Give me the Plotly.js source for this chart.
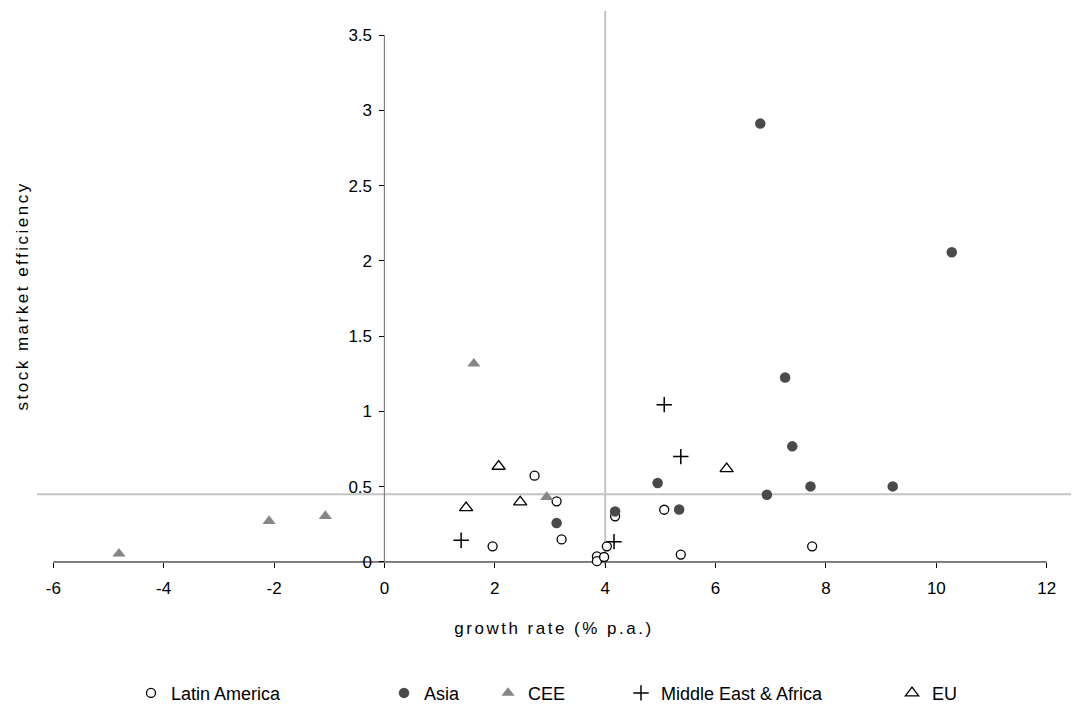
<!DOCTYPE html>
<html>
<head>
<meta charset="utf-8">
<script src="https://cdn.plot.ly/plotly-3.0.1.min.js"></script>
<style>
html,body{margin:0;padding:0;background:#fff;}
#chart{width:1072px;height:713px;}
#chart .xtitle, #chart .annotation-text { letter-spacing: 2.5px; }
</style>
</head>
<body>
<div id="chart"></div>
<script>
// ---- data ----
const seriesNames = ["Latin America", "Asia", "CEE", "Middle East & Africa", "EU"];

const latamX = [2.72, 3.12, 3.21, 1.96, 4.18, 5.07, 5.37, 7.75, 4.03, 3.85, 3.85, 3.98];
const latamY = [0.573, 0.403, 0.150, 0.104, 0.303, 0.347, 0.049, 0.104, 0.104, 0.037, 0.005, 0.033];

const asiaX = [6.81, 10.28, 7.26, 7.39, 4.95, 7.72, 9.21, 6.93, 5.34, 4.18, 3.12];
const asiaY = [2.912, 2.057, 1.225, 0.768, 0.525, 0.502, 0.502, 0.447, 0.348, 0.336, 0.259];

const ceeX = [-4.81, -2.09, -1.07, 1.62, 2.94];
const ceeY = [0.055, 0.272, 0.305, 1.317, 0.431];

const meaX = [5.07, 5.37, 4.16, 1.39];
const meaY = [1.045, 0.700, 0.135, 0.144];

const euX = [6.20, 2.07, 1.48, 2.46];
const euY = [0.619, 0.635, 0.360, 0.398];

// reference lines
const refGrowth = 4;        // vertical line
const refEfficiency = 0.45; // horizontal line

const xTicks = [-6, -4, -2, 0, 2, 4, 6, 8, 10, 12];
const xTickLabels = ["-6", "-4", "-2", "0", "2", "4", "6", "8", "10", "12"];
const yTicks = [0, 0.5, 1, 1.5, 2, 2.5, 3, 3.5];
const yTickLabels = ["0", "0.5", "1", "1.5", "2", "2.5", "3", "3.5"];

const xTitle = "growth rate (% p.a.)";
const yTitle = "stock market efficiency";

// ---- layout geometry ----
const xRange = [-6.295, 12.44];
const yRange = [-0.06, 3.70];
const FONT = "Liberation Sans, Arial, sans-serif";

const traces = [
  {x: latamX, y: latamY, name: seriesNames[0], legend: "legend",
   marker: {symbol: "circle", size: 9, color: "#ffffff", line: {color: "#000000", width: 1.3}}},
  {x: asiaX, y: asiaY, name: seriesNames[1], legend: "legend2",
   marker: {symbol: "circle", size: 10.5, color: "#4a4a4a", line: {width: 0}}},
  {x: ceeX, y: ceeY, name: seriesNames[2], legend: "legend3",
   marker: {symbol: "triangle-up", size: 11.5, color: "#868686", line: {width: 0}}},
  {x: meaX, y: meaY, name: seriesNames[3], legend: "legend4",
   marker: {symbol: "cross-thin", size: 11, color: "#000000", line: {color: "#000000", width: 1.5}}},
  {x: euX, y: euY, name: seriesNames[4], legend: "legend5",
   marker: {symbol: "triangle-up-open", size: 11.5, color: "#000000", line: {color: "#000000", width: 1.3}}}
].map(t => Object.assign({type: "scatter", mode: "markers", cliponaxis: false}, t));

const xFrac = v => (v - xRange[0]) / (xRange[1] - xRange[0]);
const yFrac = v => (v - yRange[0]) / (yRange[1] - yRange[0]);

function legendAt(xp) {
  return {x: xp, y: (571.3 - 712) / 566, xanchor: "left", yanchor: "bottom", orientation: "h",
          font: {family: FONT, size: 18, color: "#000"}, bgcolor: "rgba(0,0,0,0)", borderwidth: 0};
}

const layout = {
  width: 1072, height: 713,
  margin: {l: 37, r: 1, t: 5.3, b: 141.7, pad: 0},
  paper_bgcolor: "#ffffff", plot_bgcolor: "#ffffff",
  font: {family: FONT, size: 17, color: "#000"},
  showlegend: true,
  xaxis: {
    range: xRange, anchor: "free", position: yFrac(0),
    showline: false, zeroline: false, showgrid: false,
    tickmode: "array", tickvals: xTicks, ticktext: xTickLabels,
    ticks: "outside", ticklen: 5, tickcolor: "#000", tickwidth: 1,
    ticklabelstandoff: 6,
    tickfont: {family: FONT, size: 17, color: "#000"},
    title: {text: xTitle, font: {family: FONT, size: 17, color: "#000"}, standoff: 24}
  },
  yaxis: {
    range: yRange, anchor: "free", position: xFrac(0),
    showline: false, zeroline: false, showgrid: false,
    tickmode: "array", tickvals: yTicks, ticktext: yTickLabels,
    ticks: "outside", ticklen: 5, tickcolor: "#000", tickwidth: 1,
    ticklabelstandoff: 4,
    tickfont: {family: FONT, size: 17, color: "#000"}
  },
  shapes: [
    // reference lines
    {type: "line", xref: "paper", x0: 0, x1: 1, yref: "y", y0: refEfficiency, y1: refEfficiency,
     line: {color: "#c4c4c4", width: 2}, layer: "below"},
    {type: "line", xref: "x", x0: refGrowth, x1: refGrowth, yref: "y", y0: -0.03, y1: 3.66,
     line: {color: "#c4c4c4", width: 2}, layer: "below"},
    // axis lines
    {type: "line", xref: "x", x0: xTicks[0], x1: xTicks[xTicks.length - 1], yref: "y", y0: 0, y1: 0,
     line: {color: "#000000", width: 1}, layer: "below"},
    {type: "line", xref: "x", x0: 0, x1: 0, yref: "y", y0: yTicks[0], y1: yTicks[yTicks.length - 1],
     line: {color: "#808080", width: 1.2}, layer: "below"}
  ],
  annotations: [
    {text: yTitle, xref: "paper", yref: "paper", x: (22.5 - 37) / 1034, y: (571.3 - 296.5) / 566,
     textangle: -90, showarrow: false, xanchor: "center", yanchor: "middle",
     font: {family: FONT, size: 17, color: "#000"}}
  ],
  legend: legendAt(0.0909),
  legend2: legendAt(0.3356),
  legend3: legendAt(0.4362),
  legend4: legendAt(0.5648),
  legend5: legendAt(0.8269)
};

Plotly.newPlot("chart", traces, layout, {staticPlot: true, displayModeBar: false});
</script>
</body>
</html>
